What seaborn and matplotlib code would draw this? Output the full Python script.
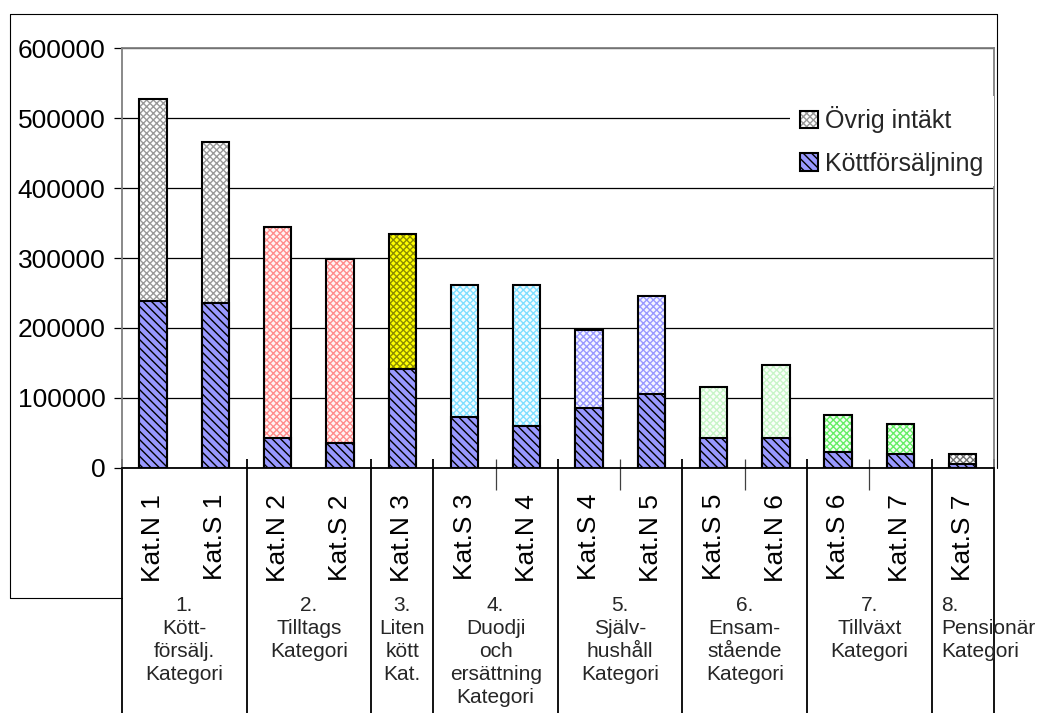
import numpy as np
import matplotlib
matplotlib.use('Agg')
import matplotlib.pyplot as plt
import matplotlib.transforms as mtransforms
from matplotlib.lines import Line2D
from matplotlib.patches import Patch, Rectangle
from matplotlib.ticker import StrMethodFormatter
import seaborn as sns

# bar data
bar_labels = ['Kat.N 1', 'Kat.S 1', 'Kat.N 2', 'Kat.S 2', 'Kat.N 3', 'Kat.S 3', 'Kat.N 4',
              'Kat.S 4', 'Kat.N 5', 'Kat.S 5', 'Kat.N 6', 'Kat.S 6', 'Kat.N 7', 'Kat.S 7']
kott = [239000, 236000, 42000, 36000, 141000, 72000, 59000,
        85000, 105000, 42000, 42000, 22000, 19500, 6000]
ovrig = [288000, 229500, 303000, 262000, 193000, 190000, 203000,
         112000, 140500, 73000, 105000, 53000, 42500, 13000]

group_labels = ['1.\nKött-\nförsälj.\nKategori', '2.\nTilltags\nKategori', '3.\nLiten\nkött\nKat.',
                '4.\nDuodji\noch\nersättning\nKategori', '5.\nSjälv-\nhushåll\nKategori',
                '6.\nEnsam-\nstående\nKategori', '7.\nTillväxt\nKategori', '8.\nPensionär\nKategori']
group_sizes = [2, 2, 1, 2, 2, 2, 2, 1]

legend_labels = ['Övrig intäkt', 'Köttförsäljning']

# colours of the upper (Övrig intäkt) segments: background and hatch
top_face = ['#FFFFFF', '#FFFFFF', '#FFF4F4', '#FFF4F4', '#FFFF00', '#F4FCFF', '#F4FCFF',
            '#F6F6FF', '#F6F6FF', '#FBFFFB', '#FBFFFB', '#F4FFF4', '#F4FFF4', '#FFFFFF']
top_hatch = ['#999999', '#999999', '#FF8C8C', '#FF8C8C', '#8C8C00', '#7FDFFF', '#7FDFFF',
             '#9999FF', '#9999FF', '#C8F5C8', '#C8F5C8', '#66EE66', '#66EE66', '#707070']
kott_color = '#9999FF'

sns.set_theme(style='white')
plt.rcParams['font.family'] = ['Liberation Sans', 'DejaVu Sans']
plt.rcParams['hatch.linewidth'] = 1.0

total = np.array(kott) + np.array(ovrig)

fig = plt.figure(figsize=(10.45, 7.13), dpi=100)
ax = fig.add_axes([0.1167, 0.344, 0.8344, 0.5882])

# full-height bars (Övrig intäkt on top of Köttförsäljning)
sns.barplot(x=bar_labels, y=total, hue=bar_labels, palette=top_face, legend=False,
            width=0.44, linewidth=0, saturation=1, errorbar=None, ax=ax, zorder=2)
top_patches = list(ax.patches)
for p, hc in zip(top_patches, top_hatch):
    p.set_edgecolor(hc)
    p.set_hatch('xxxxx')
    p.set_linewidth(0)
for p in top_patches:
    ax.add_patch(Rectangle(p.get_xy(), p.get_width(), p.get_height(), fill=False,
                           ec='black', lw=1.5, zorder=3))

# Köttförsäljning
sns.barplot(x=bar_labels, y=kott, color=kott_color, width=0.44, edgecolor='black',
            linewidth=1.5, hatch='\\\\\\\\', saturation=1, errorbar=None, ax=ax, zorder=4)

n = len(bar_labels)
ax.set_xlim(-0.5, n - 0.5)
ax.set_ylim(0, 600000)
ax.set_yticks(np.arange(0, 600001, 100000))
ax.yaxis.set_major_formatter(StrMethodFormatter('{x:.0f}'))
ax.yaxis.grid(True, color='black', lw=0.9, zorder=0)
ax.set_axisbelow(True)
ax.set_xlabel('')
ax.set_ylabel('')

ax.tick_params(axis='y', labelsize=19, length=6, width=0.9, pad=6, colors='black',
               direction='out', left=True)
ax.tick_params(axis='x', labelsize=19, labelrotation=90, length=0, pad=19, colors='black')
for lab in ax.get_yticklabels() + ax.get_xticklabels():
    lab.set_color('black')

for side in ['top', 'right', 'left']:
    ax.spines[side].set_color('#808080')
    ax.spines[side].set_linewidth(1.3)
ax.spines['bottom'].set_color('black')
ax.spines['bottom'].set_linewidth(1.3)

# category table under the axis
trans = mtransforms.blended_transform_factory(ax.transData, ax.transAxes)
starts = np.concatenate([[0], np.cumsum(group_sizes)])
ax.vlines(starts - 0.5, -0.6, 0.021, transform=trans, colors='black', lw=1.3, clip_on=False)
minor_bounds = [5.5, 7.5, 9.5, 11.5]
ax.vlines(minor_bounds, -0.053, 0.021, transform=trans, colors='#404040', lw=0.9, clip_on=False)

for i, (lab, s, size) in enumerate(zip(group_labels, starts[:-1], group_sizes)):
    if i == len(group_labels) - 1:
        ax.text(s - 0.5 + 0.15, -0.305, lab, transform=trans, ha='left', va='top',
                fontsize=15, linespacing=1.27, clip_on=False)
    else:
        ax.text(s + (size - 1) / 2, -0.305, lab, transform=trans, ha='center', va='top',
                fontsize=15, linespacing=1.27, clip_on=False)

# legend
handles = [(Patch(facecolor='white', edgecolor=top_hatch[0], hatch='xxxxx', lw=0),
            Patch(fill=False, edgecolor='black', lw=1.5)),
           Patch(facecolor=kott_color, edgecolor='black', hatch='\\\\\\\\', lw=1.5)]
leg = ax.legend(handles, legend_labels, loc='upper left', bbox_to_anchor=(0.766, 0.886),
                fontsize=18, frameon=True, fancybox=False, framealpha=1, borderpad=0.4,
                handlelength=0.72, handleheight=0.72, handletextpad=0.3, labelspacing=0.75,
                borderaxespad=0)
leg.get_frame().set_edgecolor('none')
leg.get_frame().set_facecolor('white')
leg.set_zorder(6)

# outer chart border
fig.add_artist(Line2D([0.0096, 0.954], [0.9804, 0.9804], transform=fig.transFigure, color='black', lw=0.8))
fig.add_artist(Line2D([0.0096, 0.0096], [0.9804, 0.1613], transform=fig.transFigure, color='black', lw=0.8))
fig.add_artist(Line2D([0.0096, 0.1167], [0.1613, 0.1613], transform=fig.transFigure, color='black', lw=0.8))
fig.add_artist(Line2D([0.954, 0.954], [0.9804, 0.344], transform=fig.transFigure, color='black', lw=0.8))

fig.savefig('out.png', dpi=100)
